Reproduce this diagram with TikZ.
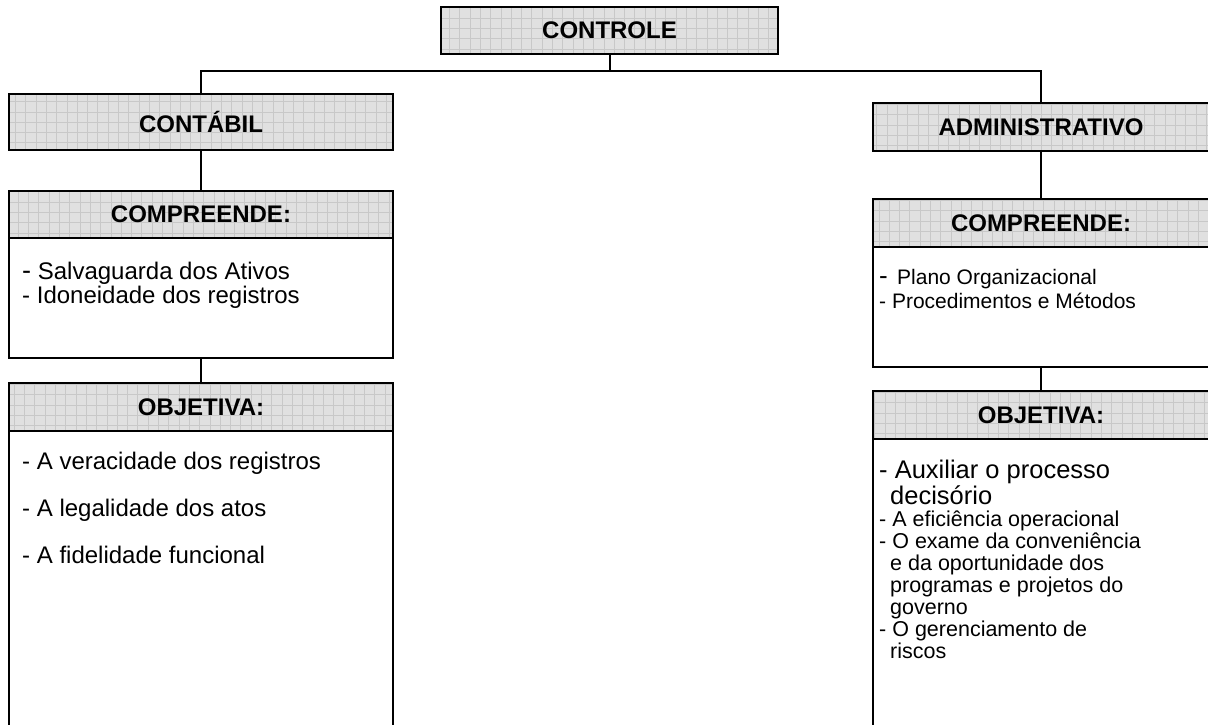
\documentclass[tikz,border=0pt]{standalone}
\usepackage{fontspec}
\setmainfont{Liberation Sans}
\definecolor{headfill}{HTML}{E0E0E0}
\definecolor{headgrid}{HTML}{C8C8C8}
\tikzset{
  frame/.style={draw=black, line width=2pt, inner sep=0pt, outer sep=0pt, anchor=north west},
  headbox/.style={frame, fill=headfill, font=\fontsize{24}{27}\selectfont\bfseries,
    path picture={\draw[headgrid, line width=0.8pt, step=10.3pt]
      (path picture bounding box.south west) grid (path picture bounding box.north east);}},
  bodybox/.style={frame, fill=white},
  link/.style={draw=black, line width=2pt},
  leftitem/.style={anchor=base west, inner sep=0pt, font=\fontsize{24}{27}\selectfont},
  compitem/.style={anchor=base west, inner sep=0pt, font=\fontsize{21}{24}\selectfont},
  rightitem/.style={anchor=base west, inner sep=0pt, font=\fontsize{21.5}{24}\selectfont},
  bigitem/.style={anchor=base west, inner sep=0pt, font=\fontsize{25.5}{29}\selectfont},
}
\newcommand{\bigdash}[1]{{\fontsize{#1}{#1}\selectfont -}}
\begin{document}
\begin{tikzpicture}[x=1pt, y=-1pt]
  \useasboundingbox (0,0) rectangle (1208,725);
  \clip (0,0) rectangle (1208,725);

  % top node
  \node[headbox, minimum width=337pt, minimum height=47pt] (controle) at (441,7) {CONTROLE};

  % left branch
  \node[headbox, minimum width=384pt, minimum height=56pt] (contabil) at (9,94) {CONT\'ABIL};
  \node[bodybox, minimum width=384pt, minimum height=167pt] (lcomp) at (9,191) {};
  \node[headbox, minimum width=384pt, minimum height=47pt] (lcomphead) at (9,191) {COMPREENDE:};
  \node[bodybox, minimum width=384pt, minimum height=360pt] (lobj) at (9,383) {};
  \node[headbox, minimum width=384pt, minimum height=48pt] (lobjhead) at (9,383) {OBJETIVA:};

  % right branch
  \node[headbox, minimum width=336pt, minimum height=48pt] (admin) at (873,103) {ADMINISTRATIVO};
  \node[bodybox, minimum width=336pt, minimum height=168pt] (rcomp) at (873,199) {};
  \node[headbox, minimum width=336pt, minimum height=48pt] (rcomphead) at (873,199) {COMPREENDE:};
  \node[bodybox, minimum width=336pt, minimum height=350pt] (robj) at (873,391) {};
  \node[headbox, minimum width=336pt, minimum height=48pt] (robjhead) at (873,391) {OBJETIVA:};

  % connectors
  \coordinate (bus) at (610,71);
  \draw[link] (controle.south) -- (controle.south |- bus);
  \draw[link] (contabil.north) |- (admin.north |- bus) -- (admin.north);
  \draw[link] (contabil.south) -- (lcomp.north);
  \draw[link] (lcomp.south) -- (lobj.north);
  \draw[link] (admin.south) -- (rcomp.north);
  \draw[link] (rcomp.south) -- (robj.north);

  % left texts
  \node[leftitem] (lc1) at (22,279) {\bigdash{27} Salvaguarda dos Ativos};
  \node[leftitem] (lc2) at (22,303) {- Idoneidade dos registros};
  \node[leftitem] (lo1) at (22,469) {- A veracidade dos registros};
  \node[leftitem] (lo2) at (22,516) {- A legalidade dos atos};
  \node[leftitem] (lo3) at (22,563) {- A fidelidade funcional};

  % right texts
  \node[compitem] (rc1) at (879,284) {\bigdash{26}\, Plano Organizacional};
  \node[compitem] (rc2) at (879,308) {- Procedimentos e M\'etodos};
  \node[bigitem] (ro1) at (879,478) {- Auxiliar o processo};
  \node[bigitem] (ro1b) at (890,504) {decis\'orio};
  \node[rightitem] (ro2) at (879,526) {- A efici\^encia operacional};
  \node[rightitem] (ro3) at (879,548) {- O exame da conveni\^encia};
  \node[rightitem] (ro3b) at (890,570) {e da oportunidade dos};
  \node[rightitem] (ro3c) at (890,592) {programas e projetos do};
  \node[rightitem] (ro3d) at (890,614) {governo};
  \node[rightitem] (ro4) at (879,636) {- O gerenciamento de};
  \node[rightitem] (ro4b) at (890,658) {riscos};
\end{tikzpicture}
\end{document}
